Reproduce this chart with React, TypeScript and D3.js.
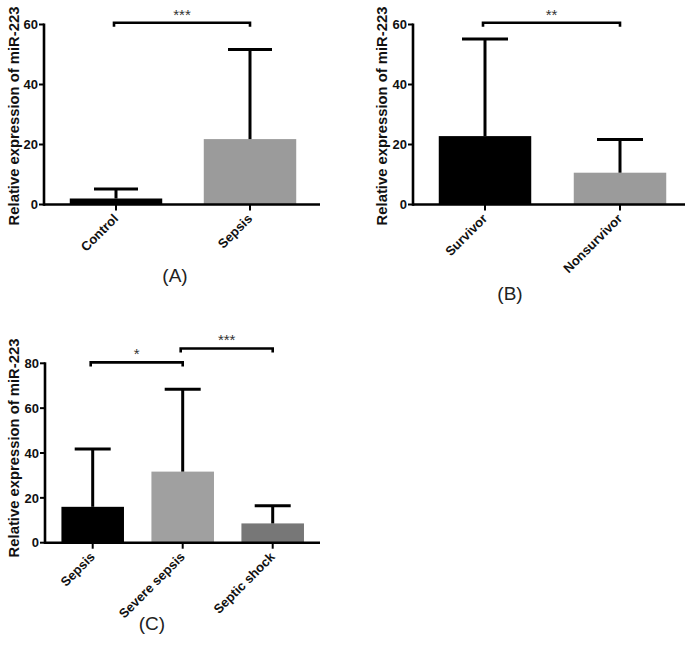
import React from "react";
import * as d3 from "d3";

// ---- Data ----
const catsA = ["Control", "Sepsis"];
const meanA = [2.0, 21.8];
const errA = [3.2, 29.9];
const colorsA = ["#000000", "#9b9b9b"];
const sigA = [{ from: 0, to: 1, level: 60.6, label: "***" }];

const catsB = ["Survivor", "Nonsurvivor"];
const meanB = [22.8, 10.6];
const errB = [32.4, 11.1];
const colorsB = ["#000000", "#9b9b9b"];
const sigB = [{ from: 0, to: 1, level: 60.6, label: "**" }];

const catsC = ["Sepsis", "Severe sepsis", "Septic shock"];
const meanC = [16.0, 31.7, 8.6];
const errC = [25.8, 36.7, 7.9];
const colorsC = ["#000000", "#a0a0a0", "#777777"];
const sigC = [
  { from: 0, to: 1, level: 80.4, label: "*" },
  { from: 1, to: 2, level: 86.6, label: "***" },
];

const ticksAB = [0, 20, 40, 60];
const ticksC = [0, 20, 40, 60, 80];
const yLabel = "Relative expression of miR-223";

const FONT = "Liberation Sans, Arial, sans-serif";

type Sig = { from: number; to: number; level: number; label: string };

function Panel(props: {
  cats: string[];
  means: number[];
  errs: number[];
  colors: string[];
  sig: Sig[];
  ticks: number[];
  yMax: number;
  axisX0: number;
  axisX1: number;
  bandRange: [number, number];
  padInner: number;
  y0: number;
  yTopPx: number;
  capHalf: number;
  labelX: number;
  labelY: number;
  title: string;
  titleX: number;
  titleY: number;
}) {
  const p = props;
  const x = d3
    .scaleBand<string>()
    .domain(p.cats)
    .range(p.bandRange)
    .paddingInner(p.padInner)
    .paddingOuter(p.padInner / 2);
  const y = d3.scaleLinear().domain([0, p.yMax]).range([p.y0, p.yTopPx]);
  const cx = (c: string) => (x(c) as number) + x.bandwidth() / 2;
  const sw = 2.6;
  return (
    <g>
      {/* bars */}
      {p.cats.map((c, i) => (
        <rect
          key={"b" + c}
          x={x(c) as number}
          y={y(p.means[i])}
          width={x.bandwidth()}
          height={p.y0 - y(p.means[i])}
          fill={p.colors[i]}
        />
      ))}
      {/* error bars */}
      {p.cats.map((c, i) => {
        const top = y(p.means[i] + p.errs[i]);
        return (
          <g key={"e" + c} stroke="#000" strokeWidth={3}>
            <line x1={cx(c)} x2={cx(c)} y1={y(p.means[i])} y2={top} />
            <line x1={cx(c) - p.capHalf} x2={cx(c) + p.capHalf} y1={top} y2={top} />
          </g>
        );
      })}
      {/* y axis */}
      <line x1={p.axisX0} x2={p.axisX0} y1={y(0) + sw / 2} y2={y(p.yMax) - 1} stroke="#000" strokeWidth={sw} />
      {p.ticks.map((t) => (
        <g key={"t" + t}>
          <line x1={p.axisX0 - 5} x2={p.axisX0} y1={y(t)} y2={y(t)} stroke="#000" strokeWidth={2} />
          <text
            x={p.axisX0 - 6}
            y={y(t)}
            dy="0.36em"
            textAnchor="end"
            fontFamily={FONT}
            fontWeight="bold"
            fontSize={13}
            fill="#111"
          >
            {t}
          </text>
        </g>
      ))}
      {/* x axis */}
      <line x1={p.axisX0} x2={p.axisX1} y1={p.y0} y2={p.y0} stroke="#000" strokeWidth={sw} />
      {p.cats.map((c) => (
        <g key={"x" + c}>
          <line x1={cx(c)} x2={cx(c)} y1={p.y0} y2={p.y0 + 6} stroke="#000" strokeWidth={2} />
          <text
            transform={`translate(${cx(c) + 3},${p.y0 + 15}) rotate(-45)`}
            textAnchor="end"
            fontFamily={FONT}
            fontWeight="bold"
            fontSize={13}
            fill="#111"
          >
            {c}
          </text>
        </g>
      ))}
      {/* y label */}
      <text
        transform={`translate(${p.labelX},${p.labelY}) rotate(-90)`}
        textAnchor="middle"
        fontFamily={FONT}
        fontWeight="bold"
        fontSize={14.8}
        fill="#111"
      >
        {yLabel}
      </text>
      {/* significance brackets */}
      {p.sig.map((s, i) => {
        const a = cx(p.cats[s.from]) - 2;
        const b = cx(p.cats[s.to]);
        const yy = y(s.level);
        return (
          <g key={"s" + i}>
            <path
              d={`M${a},${yy + 4}V${yy}H${b}V${yy + 4}`}
              fill="none"
              stroke="#000"
              strokeWidth={2.6}
            />
            <text
              x={(a + b) / 2}
              y={yy - 3}
              textAnchor="middle"
              fontFamily={FONT}
              fontSize={15}
              fill="#333"
            >
              {s.label}
            </text>
          </g>
        );
      })}
      {/* title */}
      <text x={p.titleX} y={p.titleY} textAnchor="middle" fontFamily={FONT} fontSize={19} fill="#222">
        {p.title}
      </text>
    </g>
  );
}

export default function App() {
  return (
    <svg
      width={685}
      height={656}
      style={{ position: "absolute", left: 0, top: 0, background: "#fff" }}
    >
      <rect width={685} height={656} fill="#fff" />
      <Panel
        cats={catsA}
        means={meanA}
        errs={errA}
        colors={colorsA}
        sig={sigA}
        ticks={ticksAB}
        yMax={60}
        axisX0={44}
        axisX1={320}
        bandRange={[49, 317]}
        padInner={0.31}
        y0={204.5}
        yTopPx={24.5}
        capHalf={22}
        labelX={19}
        labelY={116}
        title="(A)"
        titleX={175}
        titleY={282}
      />
      <Panel
        cats={catsB}
        means={meanB}
        errs={errB}
        colors={colorsB}
        sig={sigB}
        ticks={ticksAB}
        yMax={60}
        axisX0={413}
        axisX1={685}
        bandRange={[417.5, 687.5]}
        padInner={0.315}
        y0={204.5}
        yTopPx={24.5}
        capHalf={23}
        labelX={387}
        labelY={116}
        title="(B)"
        titleX={510}
        titleY={300}
      />
      <Panel
        cats={catsC}
        means={meanC}
        errs={errC}
        colors={colorsC}
        sig={sigC}
        ticks={ticksC}
        yMax={80}
        axisX0={45}
        axisX1={320}
        bandRange={[47.7, 317.7]}
        padInner={0.305}
        y0={542.7}
        yTopPx={363.3}
        capHalf={18}
        labelX={19}
        labelY={448}
        title="(C)"
        titleX={152}
        titleY={630}
      />
    </svg>
  );
}
